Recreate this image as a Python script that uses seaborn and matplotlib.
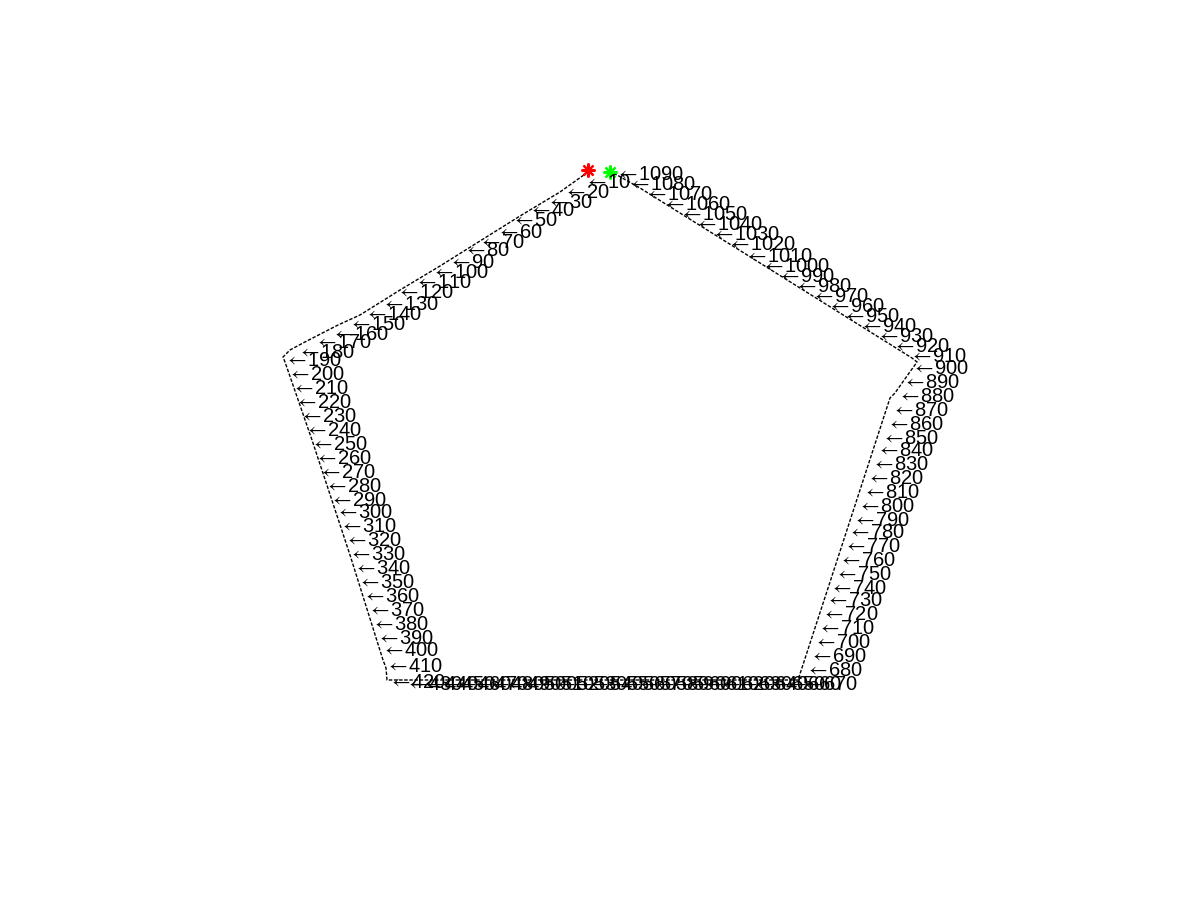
import matplotlib
matplotlib.use("Agg")
import matplotlib.pyplot as plt
import seaborn as sns
import pandas as pd

# path waypoints (screen-like units, y grows downward)
path_x = [588, 560, 520, 480, 440, 400, 360, 338, 303, 290, 283, 285, 312, 350, 383, 386, 387,
          450, 550, 650, 750, 798, 830, 860, 890, 895, 907, 917, 912, 880, 840, 800, 760, 720, 680, 640, 617, 610]
path_y = [172, 192, 216, 241, 266, 290, 315, 325, 343, 350, 357, 362, 440, 555, 660, 668, 680,
          680, 680, 680, 680, 680, 582, 490, 398, 393, 376, 362, 358, 338, 313, 288, 263, 238, 213, 188, 175, 172]

# labelled samples: every 10th step
step_no = list(range(10, 1100, 10))
step_x = [585, 564, 547, 529, 512, 497, 479, 464, 449, 432, 415, 397, 382, 365, 349, 332, 315, 298,
          285, 288, 292, 295, 300, 305, 311, 315, 319, 325, 330, 336, 340, 345, 349, 354, 358, 363,
          368, 372, 377, 382, 386, 389,
          406, 422, 439, 455, 472, 488, 505, 521, 538, 554, 571, 587, 604, 620, 637, 653, 670, 686,
          703, 719, 736, 752, 769, 785, 801,
          806, 810, 814, 818, 822, 826, 830, 835, 839, 844, 848, 853, 858, 863, 867, 872, 877, 882,
          887, 892, 898, 903, 912,
          910, 893, 877, 860, 843, 828, 812, 795, 778, 762, 745, 728, 712, 695, 680, 663, 645, 628, 616]
step_y = [182, 192, 202, 210, 220, 232, 243, 251, 262, 273, 283, 292, 304, 314, 325, 334, 343, 352,
          361, 374, 388, 402, 416, 430, 444, 458, 472, 486, 500, 513, 527, 541, 555, 569, 583, 597,
          611, 625, 638, 651, 666, 683,
          684, 684, 684, 684, 684, 684, 684, 684, 684, 684, 684, 684, 684, 684, 684, 684, 684, 684,
          684, 684, 684, 684, 684, 684, 684,
          670, 657, 643, 629, 615, 601, 588, 574, 560, 546, 533, 520, 507, 493, 479, 465, 451, 438,
          424, 410, 396, 382, 368,
          357, 347, 337, 327, 317, 307, 297, 287, 277, 267, 257, 245, 235, 225, 215, 205, 195, 185, 175]

start_pt = (588, 170)
end_pt = (610, 172)

sns.set_theme(style="white")
plt.rcParams['font.family'] = ['Liberation Sans', 'DejaVu Sans']
plt.rcParams['mathtext.fontset'] = 'stix'

fig = plt.figure(figsize=(12, 9), dpi=100)
ax = fig.add_axes([0, 0, 1, 1])

path = pd.DataFrame({"x": path_x, "y": path_y})
sns.lineplot(data=path, x="x", y="y", sort=False, estimator=None, color="black",
             linewidth=1.0, linestyle=(0, (2.5, 1.2)), ax=ax)

# arrow label at every 10th sample, tip on the point
for n, x, y in zip(step_no, step_x, step_y):
    ax.text(x, y, r"$\leftarrow\!$" + str(n), fontsize=14.5, color="black",
            ha="left", va="center")

ax.plot(*start_pt, marker=(8, 2, 0), color="red", markersize=10, markeredgewidth=1.6)
ax.plot(*end_pt, marker=(8, 2, 0), color="#00ff00", markersize=10, markeredgewidth=1.6)

ax.set_xlim(0, 1200)
ax.set_ylim(900, 0)
ax.axis("off")

fig.savefig("out.png", dpi=100, facecolor="white")
